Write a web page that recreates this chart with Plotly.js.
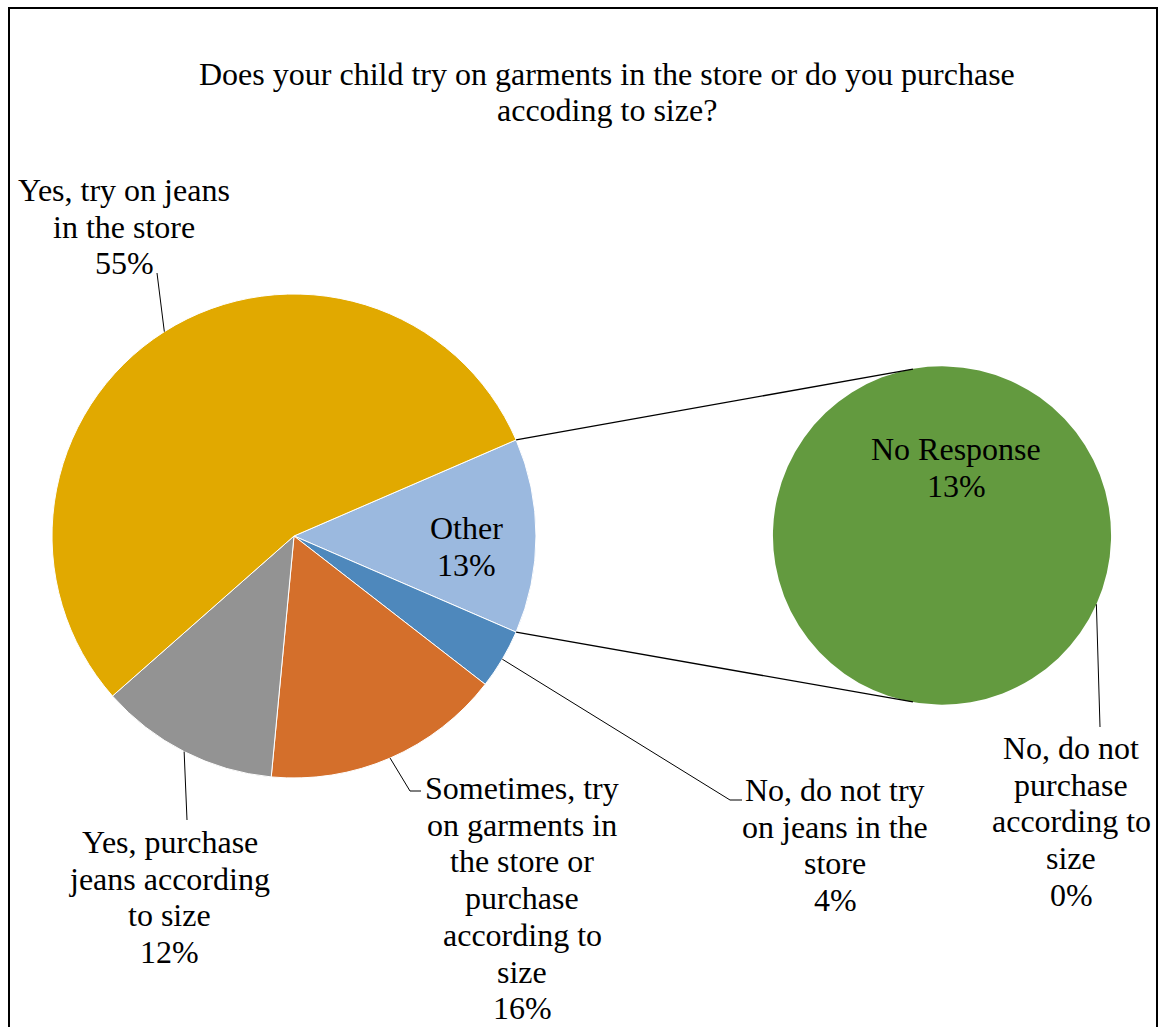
<!DOCTYPE html>
<html><head><meta charset="utf-8">
<script src="https://cdn.plot.ly/plotly-3.0.1.min.js"></script>
<style>html,body{margin:0;padding:0;background:#fff}</style>
</head><body><div id="chart" style="width:1160px;height:1027px"></div>
<script>
// ---- data ----
const titleLines = ["Does your child try on garments in the store or do you purchase", "accoding to size?"];
const mainLabels = ["Other", "No, do not try<br>on jeans in the<br>store", "Sometimes, try<br>on garments in<br>the store or<br>purchase<br>according to<br>size", "Yes, purchase<br>jeans according<br>to size", "Yes, try on jeans<br>in the store"];
const mainValues = [13, 4, 16, 12, 55];
const mainColors = ["#9BB9DF", "#4E88BC", "#D46F2B", "#939393", "#E1A900"];
const subLabels = ["No Response", "No, do not<br>purchase<br>according to<br>size"];
const subValues = [13, 0];
const subColors = ["#639A3F", "#7F7F7F"];

// ---- layout geometry (pixels) ----
const W = 1160, H = 1027;
const mainPie = {cx: 294, cy: 536, r: 242};
const subPie = {cx: 942, cy: 535.5, r: 169};
const subRotation = 114;           // compass degrees where the secondary pie starts
const connectorOffset = 9.9;       // degrees past vertical where connectors meet the secondary pie
const lineGap = 36.7, titleGap = 36;
const fontFam = "Times New Roman, Liberation Serif, DejaVu Serif, serif";
const mainLabelPos = [
  {x: 466, y: 528, inside: true},
  {x: 835, y: 790, leader: [[730, 800], [742, 800]]},
  {x: 522, y: 788, leader: [[410, 791], [421, 791]]},
  {x: 170, y: 842, leader: [[187, 820]]},
  {x: 124, y: 190, leader: [[157, 273]]}
];
const subLabelPos = [
  {x: 956, y: 449, inside: true},
  {x: 1071, y: 748, leader: [[1100, 727]]}
];

const px = x => x / W;
const py = y => 1 - y / H;
const total = mainValues.reduce((a, b) => a + b, 0);
const pct = v => Math.round(v / total * 100) + '%';
const mainRotation = 90 - 180 * mainValues[0] / total;

function edge(p, compassDeg) {
  const a = compassDeg * Math.PI / 180;
  return [p.cx + p.r * Math.sin(a), p.cy - p.r * Math.cos(a)];
}
function midAngles(vals, rot) {
  const t = vals.reduce((a, b) => a + b, 0);
  let cur = rot; const out = [];
  vals.forEach(v => { const s = v / t * 360; out.push(cur + s / 2); cur += s; });
  return out;
}

const annotations = [];
const shapes = [];
function addLines(lines, x, y0, gap, size) {
  lines.forEach((t, i) => annotations.push({
    x: px(x), y: py(y0 + i * gap), xref: 'paper', yref: 'paper', text: t,
    showarrow: false, xanchor: 'center', yanchor: 'middle',
    font: {family: fontFam, size: size, color: '#000'}
  }));
}
function addPath(pts, width) {
  const d = pts.map((p, i) => (i ? 'L' : 'M') + px(p[0]) + ',' + py(p[1])).join(' ');
  shapes.push({type: 'path', xref: 'paper', yref: 'paper', path: d, line: {color: '#000', width: width}});
}

addLines(titleLines, 607, 74, titleGap, 32);

const mainMid = midAngles(mainValues, mainRotation);
mainLabels.forEach((lab, i) => {
  const pos = mainLabelPos[i];
  addLines(lab.split('<br>').concat([pct(mainValues[i])]), pos.x, pos.y, lineGap, 32);
  if (pos.leader) addPath([edge(mainPie, mainMid[i])].concat(pos.leader), 1);
});
subLabels.forEach((lab, i) => {
  const pos = subLabelPos[i];
  addLines(lab.split('<br>').concat([pct(subValues[i])]), pos.x, pos.y, lineGap, 32);
  if (pos.leader) addPath([edge(subPie, subRotation)].concat(pos.leader), 1);
});

// connectors between the "Other" slice and the secondary pie
const otherStart = mainRotation, otherEnd = mainRotation + 360 * mainValues[0] / total;
addPath([edge(mainPie, otherStart), edge(subPie, -connectorOffset)], 1.3);
addPath([edge(mainPie, otherEnd), edge(subPie, 180 + connectorOffset)], 1.3);

// chart frame
shapes.push({type: 'rect', xref: 'paper', yref: 'paper', x0: px(9), x1: px(1157), y0: py(8), y1: py(1060),
  line: {color: '#000', width: 2}, fillcolor: 'rgba(0,0,0,0)'});

const dom = p => ({x: [px(p.cx - p.r), px(p.cx + p.r)], y: [py(p.cy + p.r), py(p.cy - p.r)]});

const data = [
  {type: 'pie', values: mainValues, labels: mainLabels.map(s => s.replace(/<br>/g, ' ')), sort: false,
   direction: 'clockwise', rotation: mainRotation, textinfo: 'none', hoverinfo: 'label+percent',
   marker: {colors: mainColors, line: {color: '#ffffff', width: 1}}, domain: dom(mainPie), showlegend: false},
  {type: 'pie', values: subValues, labels: subLabels.map(s => s.replace(/<br>/g, ' ')), sort: false,
   direction: 'clockwise', rotation: subRotation, textinfo: 'none', hoverinfo: 'label+percent',
   marker: {colors: subColors, line: {color: '#ffffff', width: 0}}, domain: dom(subPie), showlegend: false}
];

const layout = {
  width: W, height: H, margin: {l: 0, r: 0, t: 0, b: 0},
  paper_bgcolor: '#ffffff', plot_bgcolor: '#ffffff',
  showlegend: false, annotations: annotations, shapes: shapes,
  font: {family: fontFam}
};
Plotly.newPlot('chart', data, layout, {displayModeBar: false, staticPlot: true});
</script></body></html>
